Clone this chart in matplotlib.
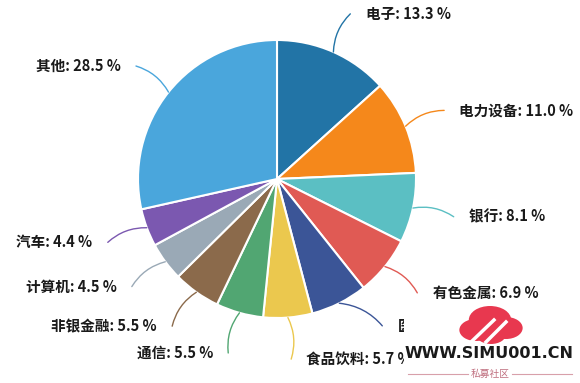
import numpy as np
import matplotlib.pyplot as plt
from matplotlib.patches import Circle, Rectangle

plt.rcParams['font.family'] = ['Noto Sans CJK SC', 'DejaVu Sans']

# data
sectors = ['电子', '电力设备', '银行', '有色金属', '医药生物', '食品饮料',
           '通信', '非银金融', '计算机', '汽车', '其他']
shares = [13.3, 11.0, 8.1, 6.9, 6.6, 5.7, 5.5, 5.5, 4.5, 4.4, 28.5]
colors = ['#2274a6', '#f5881b', '#5bbfc3', '#e05a54', '#3b5597', '#ebc84e',
          '#51a672', '#8b6a4b', '#9aa9b6', '#7b58b0', '#4aa6dc']

W, H = 580, 383
cx, cy, R = 277, 179, 139  # pie centre / radius in pixels

fig = plt.figure(figsize=(W / 100, H / 100), dpi=100)
ax = fig.add_axes([0, 0, 1, 1])

wedges, _ = ax.pie(shares, colors=colors, startangle=90, counterclock=False,
                   radius=1, wedgeprops=dict(edgecolor='white', linewidth=1.5))

# pie() resets the limits, so set them afterwards
ax.set_xlim(-cx / R, (W - cx) / R)
ax.set_ylim(-(H - cy) / R, cy / R)
ax.set_aspect('equal')
ax.axis('off')

# labels with curved leader lines
nudge = {'医药生物': 9}  # degrees, label pushed aside to avoid crowding
for w, name, val, col in zip(wedges, sectors, shares, colors):
    mid_deg = (w.theta1 + w.theta2) / 2
    mid = np.deg2rad(mid_deg)
    end = np.deg2rad(mid_deg + nudge.get(name, 0))
    x0, y0 = np.cos(mid), np.sin(mid)
    x1, y1 = 1.3 * np.cos(end), 1.3 * np.sin(end)
    side = 1 if x0 >= 0 else -1
    ax.annotate('', xy=(x0, y0), xytext=(x1, y1),
                arrowprops=dict(arrowstyle='-', color=col, lw=1,
                                shrinkA=0, shrinkB=0,
                                connectionstyle='arc3,rad=%s' % (0.2 * side)))
    ax.text(x1 + side * 0.11, y1, '%s: %.1f %%' % (name, val),
            ha='left' if side > 0 else 'right', va='center',
            fontsize=10.5, color='#1a1a1a', fontweight='bold')

# watermark overlay
fig.patches.append(Rectangle((404 / W, 0), (W - 404) / W, (H - 299) / H,
                             transform=fig.transFigure, facecolor='white',
                             edgecolor='none', zorder=5))
for (px, py, pr) in [(476, 330, 11), (490, 320, 14), (506, 328, 11), (491, 334, 10)]:
    fig.patches.append(Circle((px / W, 1 - py / H), pr / H, transform=fig.transFigure,
                              facecolor='#e8384f', edgecolor='none', zorder=6))
fig.add_artist(plt.Line2D([470 / W, 494 / W], [1 - 343 / H, 1 - 320 / H],
                          transform=fig.transFigure, color='white', lw=2.5, zorder=7))
fig.add_artist(plt.Line2D([486 / W, 506 / W], [1 - 342 / H, 1 - 322 / H],
                          transform=fig.transFigure, color='white', lw=2.5, zorder=7))
ax.annotate('', xy=(520 / W, 1 - 302 / H), xytext=(500 / W, 1 - 322 / H),
            xycoords='figure fraction', textcoords='figure fraction',
            arrowprops=dict(arrowstyle='-|>', color='#e8384f', lw=2.5,
                            mutation_scale=10), zorder=8)
fig.text(489 / W, 1 - 354 / H, 'WWW.SIMU001.CN', ha='center', va='center',
         fontsize=11.5, fontweight='bold', color='#1a1a1a', zorder=7,
         family=['DejaVu Sans'])
fig.text(490 / W, 1 - 374 / H, '私募社区', ha='center', va='center',
         fontsize=7, color='#c07080', zorder=7)
fig.add_artist(plt.Line2D([408 / W, 468 / W], [1 - 374 / H] * 2,
                          transform=fig.transFigure, color='#d8a0aa', lw=0.8, zorder=7))
fig.add_artist(plt.Line2D([512 / W, 572 / W], [1 - 374 / H] * 2,
                          transform=fig.transFigure, color='#d8a0aa', lw=0.8, zorder=7))

fig.savefig('out.png', dpi=100, facecolor='white')
